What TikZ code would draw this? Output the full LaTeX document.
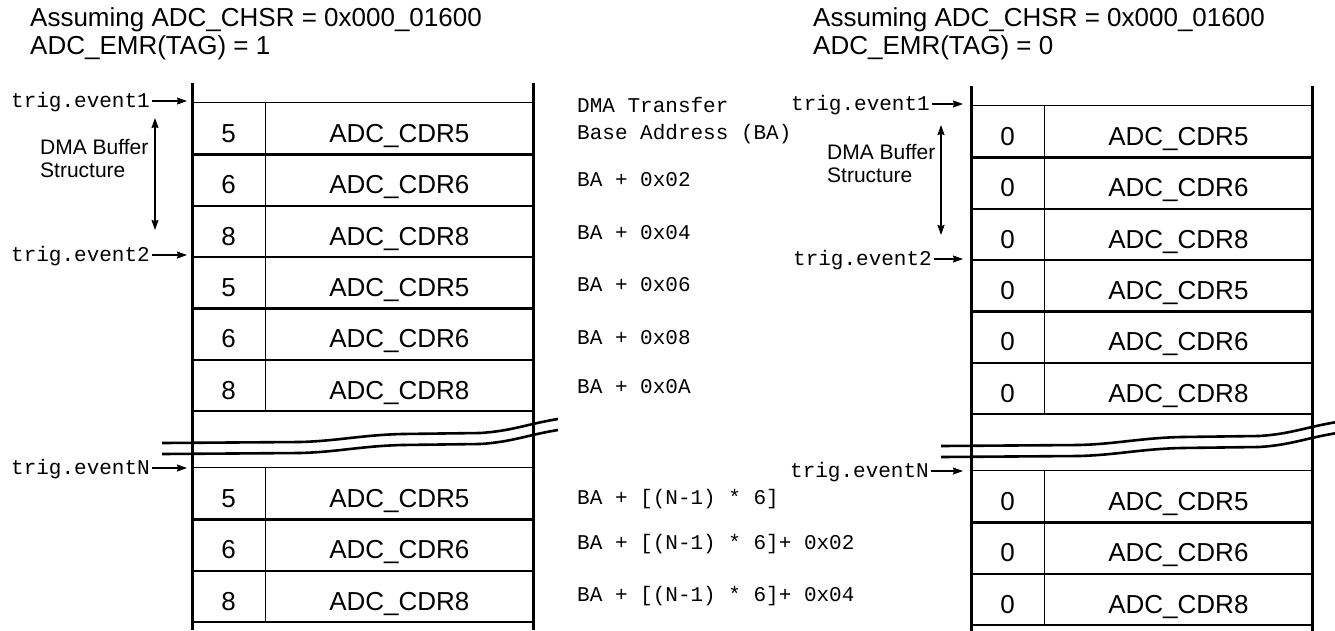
\documentclass[tikz,border=0pt]{standalone}
\usepackage{fontspec}
\setmainfont{Liberation Sans}
\setmonofont{Liberation Mono}
\usetikzlibrary{positioning,arrows.meta}

\begin{document}
\begin{tikzpicture}[x=1pt,y=-1pt,
  every node/.style={inner sep=0pt},
  cell/.style={minimum height=51.3pt,text height=28pt,text depth=0pt,font=\fontsize{26}{30}\selectfont},
  numcell/.style={cell,minimum width=73pt},
  regcell/.style={cell,minimum width=268pt},
  head/.style={anchor=base west,font=\fontsize{26}{30}\selectfont},
  addr/.style={anchor=west,text height=13pt,text depth=0pt,font=\ttfamily\fontsize{21}{24}\selectfont},
  trig/.style={addr,inner xsep=2pt},
  buf/.style={anchor=north west,align=left,font=\fontsize{21}{23}\selectfont},
  wall/.style={line width=3pt},
  rule/.style={line width=2.4pt},
  hair/.style={line width=1.3pt},
  ptr/.style={line width=1.2pt,-{Stealth[length=10pt,width=7pt,inset=1pt]}},
  span/.style={line width=1.2pt,{Stealth[length=10pt,width=7pt,inset=1pt]}-{Stealth[length=10pt,width=7pt,inset=1pt]}},
  brk/.pic={
    \draw[line width=2.6pt] (0,0) -- (138,-1) .. controls (175,-2) and (200,-8) .. (240,-9) -- (318,-10) .. controls (350,-12) and (365,-19) .. (396,-24);
    \draw[line width=2.6pt] (0,11) -- (138,10) .. controls (175,9) and (200,3) .. (240,2) -- (318,1) .. controls (350,-1) and (365,-8) .. (396,-13);
  }]
\useasboundingbox (0,0) rectangle (1335,630);
% headings
\node[head] (lhd1) at (30,26) {Assuming ADC\_CHSR = 0x000\_01600};
\node[head] (lhd2) at (30,54) {ADC\_EMR(TAG) = 1};
\node[head] (rhd1) at (813,26) {Assuming ADC\_CHSR = 0x000\_01600};
\node[head] (rhd2) at (813,54) {ADC\_EMR(TAG) = 0};
% the two buffers
\foreach \s/\dx/\dy/\tg in {l/0/0/1,r/779/3/0}{
\begin{scope}[shift={(\dx,\dy)}]
\draw[wall] (192,83) -- (192,630);
\draw[wall] (533,83) -- (533,630);
\foreach \n [count=\i] in {5,6,8,5,6,8}{
  \node[numcell] (\s-n\i) at (228.5,{103+51.3*(\i-0.5)}) {\ifnum\tg=1 \n\else 0\fi};
  \node[regcell,right=0pt of \s-n\i] (\s-r\i) {ADC\_CDR\n};
  \draw[hair] (\s-n\i.north east) -- (\s-n\i.south east);
}
\foreach \i in {1,...,5}{\draw[rule] (\s-n\i.south west) -- (\s-r\i.south east);}
\draw[hair] (\s-n1.north west) -- (\s-r1.north east);
\draw[hair] (\s-n6.south west) -- (\s-r6.south east);
\foreach \n [count=\i] in {5,6,8}{
  \node[numcell] (\s-m\i) at (228.5,{468+51.3*(\i-0.5)}) {\ifnum\tg=1 \n\else 0\fi};
  \node[regcell,right=0pt of \s-m\i] (\s-q\i) {ADC\_CDR\n};
  \draw[hair] (\s-m\i.north east) -- (\s-m\i.south east);
  \draw[rule] (\s-m\i.south west) -- (\s-q\i.south east);
}
\draw[hair] (\s-m1.north west) -- (\s-q1.north east);
\pic at (162,443) {brk};
\end{scope}}
% trigger marks
\coordinate (lt1) at (187,101);
\coordinate (lt2) at (187,255);
\coordinate (ltN) at (187,468);
\coordinate (rt1) at (963,104);
\coordinate (rt2) at (963,259);
\coordinate (rtN) at (963,471);
\node[trig,left=35pt of lt1] (lev1) {trig.event1};
\node[trig,left=35pt of lt2] (lev2) {trig.event2};
\node[trig,left=35pt of ltN] (levN) {trig.eventN};
\node[trig,left=31pt of rt1] (rev1) {trig.event1};
\node[trig,left=29pt of rt2] (rev2) {trig.event2};
\node[trig,left=32pt of rtN] (revN) {trig.eventN};
\foreach \e in {1,2,N}{
  \draw[ptr] (lev\e.east) -- (lt\e);
  \draw[ptr] (rev\e.east) -- (rt\e);
}
% buffer span
\coordinate (lsa) at (155,118);
\coordinate (lsb) at (155,230);
\coordinate (rsa) at (941,125);
\coordinate (rsb) at (941,235);
\draw[span] (lsa) -- (lsb);
\draw[span] (rsa) -- (rsb);
\node[buf] (lbuf) at (40,139) {DMA Buffer\\Structure};
\node[buf] (rbuf) at (827,144) {DMA Buffer\\Structure};
% addresses
\node[addr] (ba0) at (577,106) {DMA Transfer};
\node[addr] (ba1) at (577,133) {Base Address (BA)};
\foreach \a/\y [count=\i from 2] in {02/180,04/233,06/285,08/338,0A/387}{
  \node[addr] (ba\i) at (577,\y) {BA + 0x\a};
}
\node[addr] (bn1) at (577,498) {BA + [(N-1) * 6]};
\node[addr] (bn2) at (577,543) {BA + [(N-1) * 6]+ 0x02};
\node[addr] (bn3) at (577,595) {BA + [(N-1) * 6]+ 0x04};
\end{tikzpicture}
\end{document}
